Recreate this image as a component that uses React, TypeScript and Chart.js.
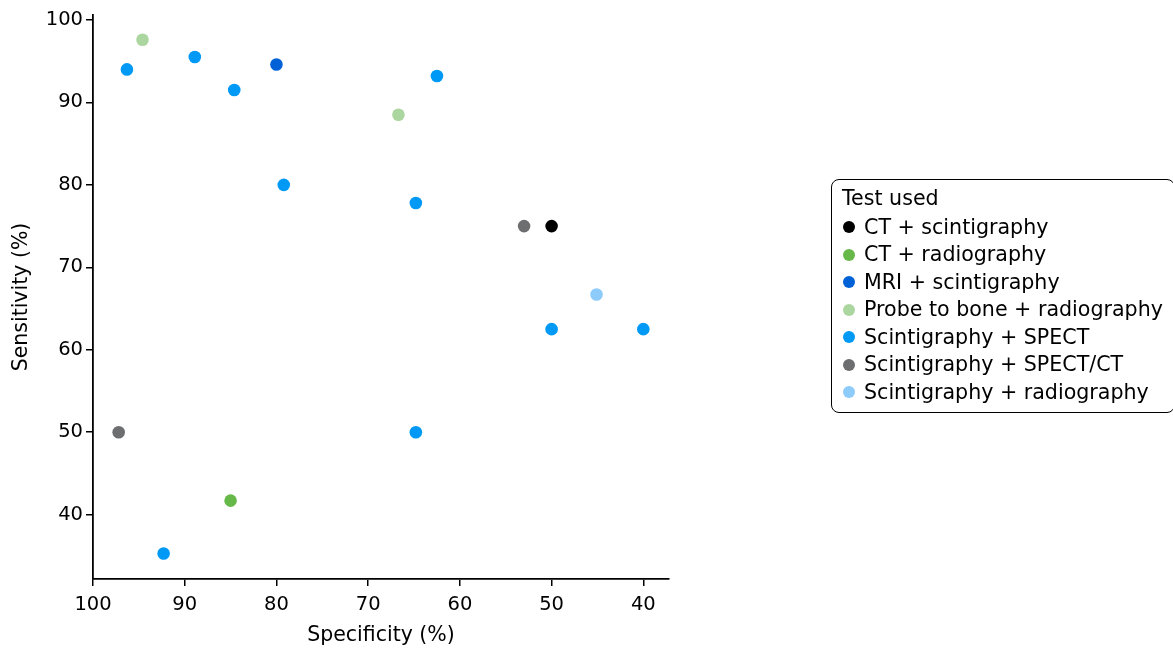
import React, { useEffect, useRef } from "react";
import { Chart, registerables } from "chart.js";

Chart.register(...registerables);

const seriesNames = [
  "CT + scintigraphy",
  "CT + radiography",
  "MRI + scintigraphy",
  "Probe to bone + radiography",
  "Scintigraphy + SPECT",
  "Scintigraphy + SPECT/CT",
  "Scintigraphy + radiography",
];
const seriesColors = ["#000000", "#66b848", "#0062d6", "#acd6a0", "#0099f5", "#6d6e70", "#8ccbfa"];

// specificity (x) and sensitivity (y) per series
const ctScintX = [50];
const ctScintY = [75];
const ctRadioX = [85];
const ctRadioY = [41.7];
const mriScintX = [80];
const mriScintY = [94.6];
const probeX = [94.6, 66.7];
const probeY = [97.6, 88.5];
const spectX = [96.3, 88.9, 84.6, 79.2, 62.5, 64.8, 50, 40, 64.8, 92.3];
const spectY = [94.0, 95.5, 91.5, 80.0, 93.2, 77.8, 62.5, 62.5, 50, 35.3];
const spectCtX = [53, 97.2];
const spectCtY = [75, 50];
const scintRadioX = [45.1];
const scintRadioY = [66.7];

const seriesX = [ctScintX, ctRadioX, mriScintX, probeX, spectX, spectCtX, scintRadioX];
const seriesY = [ctScintY, ctRadioY, mriScintY, probeY, spectY, spectCtY, scintRadioY];

const xTicks = [100, 90, 80, 70, 60, 50, 40];
const yTicks = [40, 50, 60, 70, 80, 90, 100];

const FONT = "'DejaVu Sans', sans-serif";

export default function App() {
  const ref = useRef<HTMLCanvasElement | null>(null);

  useEffect(() => {
    if (!ref.current) return;
    const datasets = seriesNames.map((name, i) => ({
      label: name,
      data: seriesX[i].map((x, j) => ({ x, y: seriesY[i][j] })),
      backgroundColor: seriesColors[i],
      borderColor: seriesColors[i],
      borderWidth: 0,
      pointRadius: 6.3,
      pointHoverRadius: 6.3,
    }));
    const chart = new Chart(ref.current, {
      type: "scatter",
      data: { datasets },
      options: {
        responsive: false,
        animation: false,
        layout: { padding: { top: 15, right: 504, left: 0, bottom: 0 } },
        plugins: { legend: { display: false }, tooltip: { enabled: false } },
        scales: {
          x: {
            type: "linear",
            reverse: true,
            min: 37.2,
            max: 100,
            afterBuildTicks: (s: any) => {
              s.ticks = xTicks.map((v) => ({ value: v }));
            },
            afterFit: (s: any) => {
              s.height = 69;
            },
            grid: { drawOnChartArea: false, drawTicks: true, tickLength: 7, color: "#000", lineWidth: 1.5 },
            border: { color: "#000", width: 1.8 },
            ticks: { color: "#000", font: { family: FONT, size: 19.5 }, padding: 7, maxRotation: 0 },
            title: { display: true, text: "Specificity (%)", color: "#000", font: { family: FONT, size: 20.5 }, padding: { top: 2, bottom: 0 } },
          },
          y: {
            type: "linear",
            min: 32.2,
            max: 100.6,
            afterBuildTicks: (s: any) => {
              s.ticks = yTicks.map((v) => ({ value: v }));
            },
            afterFit: (s: any) => {
              s.width = 93;
            },
            grid: { drawOnChartArea: false, drawTicks: true, tickLength: 7, color: "#000", lineWidth: 1.5 },
            border: { color: "#000", width: 1.8 },
            ticks: { color: "#000", font: { family: FONT, size: 19.5 }, padding: 3 },
            title: { display: true, text: "Sensitivity (%)", color: "#000", font: { family: FONT, size: 20.5 }, padding: { top: 9, bottom: 4 } },
          },
        },
      },
    });
    return () => chart.destroy();
  }, []);

  return (
    <div style={{ position: "fixed", left: 0, top: 0, width: 1173, height: 648, background: "#fff" }}>
      <canvas ref={ref} width={1173} height={648} style={{ position: "absolute", left: 0, top: 0 }} />
      <div
        style={{
          position: "absolute",
          left: 831,
          top: 179,
          width: 344,
          height: 234,
          border: "1.6px solid #000",
          borderRadius: 8,
          boxSizing: "border-box",
          fontFamily: FONT,
          fontSize: 20.6,
          color: "#000",
          padding: "5px 0 0 10px",
          lineHeight: "27.5px",
          whiteSpace: "nowrap",
        }}
      >
        <div style={{ marginBottom: 1 }}>Test used</div>
        {seriesNames.map((n, i) => (
          <div key={n} style={{ display: "flex", alignItems: "center" }}>
            <span
              style={{
                display: "inline-block",
                width: 12,
                height: 12,
                borderRadius: "50%",
                background: seriesColors[i],
                marginLeft: 1,
                marginRight: 9,
                flex: "none",
              }}
            />
            <span>{n}</span>
          </div>
        ))}
      </div>
    </div>
  );
}
